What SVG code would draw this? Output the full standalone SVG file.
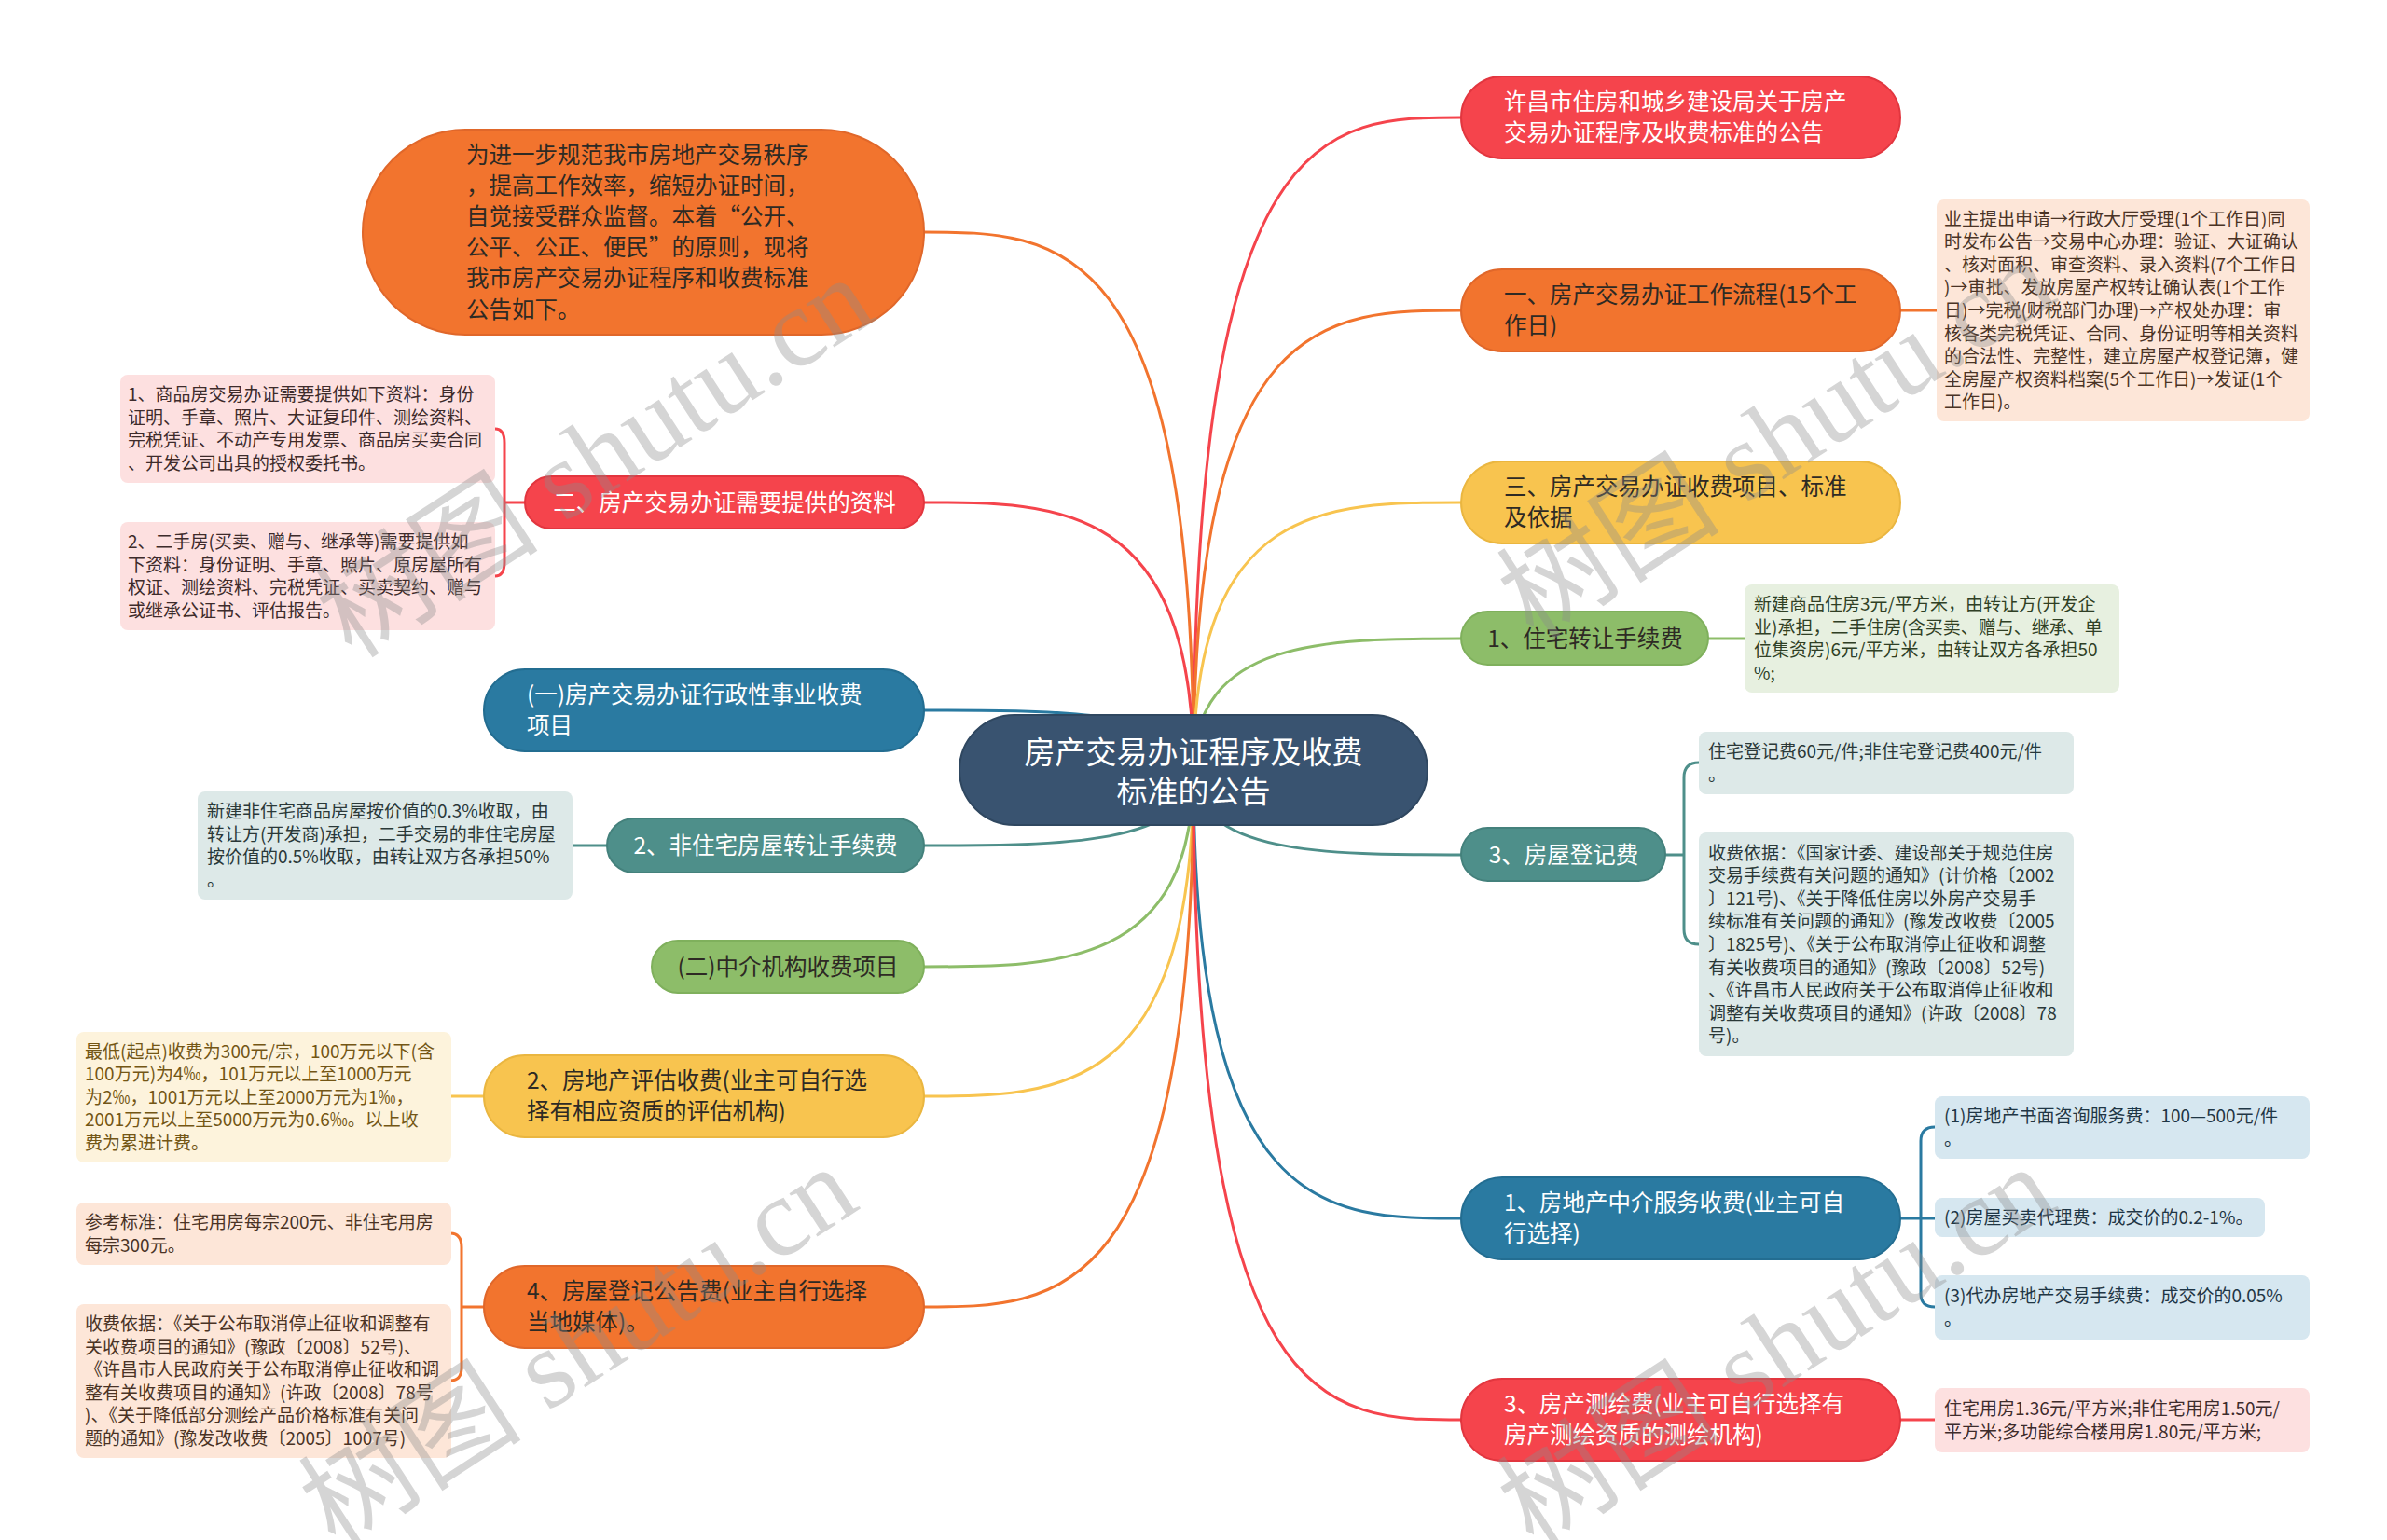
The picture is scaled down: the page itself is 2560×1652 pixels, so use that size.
<svg xmlns="http://www.w3.org/2000/svg" width="2560" height="1652" viewBox="0 0 2560 1652">
<style>
text{font-family:"Noto Sans CJK SC","Noto Sans",sans-serif}
.c{fill:none;stroke-width:3;stroke-linecap:round}
.nt{font-size:24.5px}
.st{font-size:19px}
.w{fill:#ffffff}
.d{fill:#2e2a24}
.red{fill:#f5444c;stroke:#e2363f;stroke-width:2}
.org{fill:#f2742e;stroke:#e0672a;stroke-width:2}
.yel{fill:#f8c44f;stroke:#eab640;stroke-width:2}
.grn{fill:#8dbd69;stroke:#7fb05c;stroke-width:2}
.blu{fill:#2a7aa1;stroke:#236d91;stroke-width:2}
.tea{fill:#4e8f8a;stroke:#44817c;stroke-width:2}
.npk{fill:#fde0e0}
.npc{fill:#fde6d8}
.nyl{fill:#fdf3dc}
.ngr{fill:#e7f0e0}
.ntl{fill:#dde9e8}
.nbl{fill:#d6e7f0}
.wm{font-family:"Liberation Serif","Noto Sans CJK SC",serif;font-size:120px;fill:#8c8c8c;opacity:0.36}
</style>
<rect width="2560" height="1652" fill="#ffffff"/>
<g id="connectors">
<path class="c" stroke="#f2742e" d="M1280,826 C1280,249 1135,249 991,249"/>
<path class="c" stroke="#f5444c" d="M1280,826 C1280,539 1135,539 991,539"/>
<path class="c" stroke="#2a7aa1" d="M1280,826 C1280,762 1135,762 991,762"/>
<path class="c" stroke="#4e8f8a" d="M1280,826 C1280,907 1135,907 991,907"/>
<path class="c" stroke="#8dbd69" d="M1280,826 C1280,1037 1135,1037 991,1037"/>
<path class="c" stroke="#f8c44f" d="M1280,826 C1280,1176 1135,1176 991,1176"/>
<path class="c" stroke="#f2742e" d="M1280,826 C1280,1402 1135,1402 991,1402"/>
<path class="c" stroke="#f5444c" d="M1280,826 C1280,126 1423,126 1567,126"/>
<path class="c" stroke="#f2742e" d="M1280,826 C1280,333 1423,333 1567,333"/>
<path class="c" stroke="#f8c44f" d="M1280,826 C1280,539 1423,539 1567,539"/>
<path class="c" stroke="#8dbd69" d="M1280,826 C1280,685 1423,685 1567,685"/>
<path class="c" stroke="#4e8f8a" d="M1280,826 C1280,917 1423,917 1567,917"/>
<path class="c" stroke="#2a7aa1" d="M1280,826 C1280,1307 1423,1307 1567,1307"/>
<path class="c" stroke="#f5444c" d="M1280,826 C1280,1523 1423,1523 1567,1523"/>
<path class="c" stroke="#f5444c" d="M563,539 L541,539 M531,460 Q541,460 541,475 L541,603 Q541,618 531,618"/>
<path class="c" stroke="#4e8f8a" d="M651,907 L614,907"/>
<path class="c" stroke="#f8c44f" d="M519,1176 L483,1176"/>
<path class="c" stroke="#f2742e" d="M519,1402 L495,1402 M483,1323 Q495,1323 495,1338 L495,1467 Q495,1481 483,1481"/>
<path class="c" stroke="#f2742e" d="M2038,333 L2077,333"/>
<path class="c" stroke="#8dbd69" d="M1832,685 L1871,685"/>
<path class="c" stroke="#4e8f8a" d="M1786,917 L1806,917 M1822,818 Q1806,818 1806,834 L1806,997 Q1806,1013 1822,1013"/>
<path class="c" stroke="#2a7aa1" d="M2038,1307 L2075,1307 M2075,1209 Q2060,1209 2060,1224 L2060,1388 Q2060,1402 2075,1402"/>
<path class="c" stroke="#f5444c" d="M2038,1523 L2075,1523"/>
</g>
<g id="root">
<rect x="1029" y="767" width="502" height="118" rx="59" fill="#395370" stroke="#2f4760" stroke-width="2"/>
<text x="1280" y="819" font-size="33" text-anchor="middle" class="w">房产交易办证程序及收费</text>
<text x="1280" y="861" font-size="33" text-anchor="middle" class="w">标准的公告</text>
</g>
<g id="n-intro">
<rect class="org" x="389" y="139" width="602" height="220" rx="110"/>
<text class="nt d" x="500" y="175">为进一步规范我市房地产交易秩序</text>
<text class="nt d" x="500" y="208">，提高工作效率，缩短办证时间，</text>
<text class="nt d" x="500" y="241">自觉接受群众监督。本着“公开、</text>
<text class="nt d" x="500" y="274">公平、公正、便民”的原则，现将</text>
<text class="nt d" x="500" y="307">我市房产交易办证程序和收费标准</text>
<text class="nt d" x="500" y="341">公告如下。</text>
</g>
<g id="n-materials">
<rect class="red" x="563" y="511" width="428" height="56" rx="28"/>
<text class="nt w" x="777" y="548" text-anchor="middle">二、房产交易办证需要提供的资料</text>
</g>
<g id="n-materials-1">
<rect class="npk" x="129" y="402" width="402" height="116" rx="8"/>
<text class="st" fill="#3d2b2b" x="137" y="430">1、商品房交易办证需要提供如下资料：身份</text>
<text class="st" fill="#3d2b2b" x="137" y="454.5">证明、手章、照片、大证复印件、测绘资料、</text>
<text class="st" fill="#3d2b2b" x="137" y="479">完税凭证、不动产专用发票、商品房买卖合同</text>
<text class="st" fill="#3d2b2b" x="137" y="503.5">、开发公司出具的授权委托书。</text>
</g>
<g id="n-materials-2">
<rect class="npk" x="129" y="560" width="402" height="116" rx="8"/>
<text class="st" fill="#3d2b2b" x="137" y="588">2、二手房(买卖、赠与、继承等)需要提供如</text>
<text class="st" fill="#3d2b2b" x="137" y="612.5">下资料：身份证明、手章、照片、原房屋所有</text>
<text class="st" fill="#3d2b2b" x="137" y="637">权证、测绘资料、完税凭证、买卖契约、赠与</text>
<text class="st" fill="#3d2b2b" x="137" y="661.5">或继承公证书、评估报告。</text>
</g>
<g id="n-admin">
<rect class="blu" x="519" y="718" width="472" height="88" rx="44"/>
<text class="nt w" x="565" y="754">(一)房产交易办证行政性事业收费</text>
<text class="nt w" x="565" y="787">项目</text>
</g>
<g id="n-nonres">
<rect class="tea" x="651" y="878" width="340" height="58" rx="29"/>
<text class="nt w" x="821" y="916" text-anchor="middle">2、非住宅房屋转让手续费</text>
</g>
<g id="n-nonres-note">
<rect class="ntl" x="212" y="849" width="402" height="116" rx="8"/>
<text class="st" fill="#2a3838" x="222" y="877">新建非住宅商品房屋按价值的0.3%收取，由</text>
<text class="st" fill="#2a3838" x="222" y="901.5">转让方(开发商)承担，二手交易的非住宅房屋</text>
<text class="st" fill="#2a3838" x="222" y="926">按价值的0.5%收取，由转让双方各承担50%</text>
<text class="st" fill="#2a3838" x="222" y="950.5">。</text>
</g>
<g id="n-agency">
<rect class="grn" x="699" y="1009" width="292" height="56" rx="28"/>
<text class="nt d" x="845" y="1046" text-anchor="middle">(二)中介机构收费项目</text>
</g>
<g id="n-appraisal">
<rect class="yel" x="519" y="1132" width="472" height="88" rx="44"/>
<text class="nt d" x="565" y="1168">2、房地产评估收费(业主可自行选</text>
<text class="nt d" x="565" y="1201">择有相应资质的评估机构)</text>
</g>
<g id="n-appraisal-note">
<rect class="nyl" x="82" y="1107" width="402" height="140" rx="8"/>
<text class="st" fill="#735615" x="91" y="1134.5">最低(起点)收费为300元/宗，100万元以下(含</text>
<text class="st" fill="#735615" x="91" y="1159">100万元)为4‰，101万元以上至1000万元</text>
<text class="st" fill="#735615" x="91" y="1183.5">为2‰，1001万元以上至2000万元为1‰，</text>
<text class="st" fill="#735615" x="91" y="1208">2001万元以上至5000万元为0.6‰。以上收</text>
<text class="st" fill="#735615" x="91" y="1233">费为累进计费。</text>
</g>
<g id="n-notice">
<rect class="org" x="519" y="1358" width="472" height="88" rx="44"/>
<text class="nt d" x="565" y="1394">4、房屋登记公告费(业主自行选择</text>
<text class="nt d" x="565" y="1427">当地媒体)。</text>
</g>
<g id="n-notice-1">
<rect class="npc" x="82" y="1290" width="402" height="67" rx="8"/>
<text class="st" fill="#4a3325" x="91" y="1318">参考标准：住宅用房每宗200元、非住宅用房</text>
<text class="st" fill="#4a3325" x="91" y="1342.5">每宗300元。</text>
</g>
<g id="n-notice-2">
<rect class="npc" x="82" y="1399" width="402" height="165" rx="8"/>
<text class="st" fill="#4a3325" x="91" y="1427">收费依据：《关于公布取消停止征收和调整有</text>
<text class="st" fill="#4a3325" x="91" y="1451.5">关收费项目的通知》(豫政〔2008〕52号)、</text>
<text class="st" fill="#4a3325" x="91" y="1476">《许昌市人民政府关于公布取消停止征收和调</text>
<text class="st" fill="#4a3325" x="91" y="1500.5">整有关收费项目的通知》(许政〔2008〕78号</text>
<text class="st" fill="#4a3325" x="91" y="1525">)、《关于降低部分测绘产品价格标准有关问</text>
<text class="st" fill="#4a3325" x="91" y="1549.5">题的通知》(豫发改收费〔2005〕1007号)</text>
</g>
<g id="n-title">
<rect class="red" x="1567" y="82" width="471" height="88" rx="44"/>
<text class="nt w" x="1613" y="118">许昌市住房和城乡建设局关于房产</text>
<text class="nt w" x="1613" y="151">交易办证程序及收费标准的公告</text>
</g>
<g id="n-process">
<rect class="org" x="1567" y="289" width="471" height="88" rx="44"/>
<text class="nt d" x="1613" y="325">一、房产交易办证工作流程(15个工</text>
<text class="nt d" x="1613" y="358">作日)</text>
</g>
<g id="n-process-note">
<rect class="npc" x="2077" y="214" width="400" height="238" rx="8"/>
<text class="st" fill="#4a3325" x="2085" y="241.5">业主提出申请→行政大厅受理(1个工作日)同</text>
<text class="st" fill="#4a3325" x="2085" y="266">时发布公告→交易中心办理：验证、大证确认</text>
<text class="st" fill="#4a3325" x="2085" y="290.5">、核对面积、审查资料、录入资料(7个工作日</text>
<text class="st" fill="#4a3325" x="2085" y="315">)→审批、发放房屋产权转让确认表(1个工作</text>
<text class="st" fill="#4a3325" x="2085" y="340">日)→完税(财税部门办理)→产权处办理：审</text>
<text class="st" fill="#4a3325" x="2085" y="364.5">核各类完税凭证、合同、身份证明等相关资料</text>
<text class="st" fill="#4a3325" x="2085" y="389">的合法性、完整性，建立房屋产权登记簿，健</text>
<text class="st" fill="#4a3325" x="2085" y="413.5">全房屋产权资料档案(5个工作日)→发证(1个</text>
<text class="st" fill="#4a3325" x="2085" y="438">工作日)。</text>
</g>
<g id="n-fees">
<rect class="yel" x="1567" y="495" width="471" height="88" rx="44"/>
<text class="nt d" x="1613" y="531">三、房产交易办证收费项目、标准</text>
<text class="nt d" x="1613" y="564">及依据</text>
</g>
<g id="n-res">
<rect class="grn" x="1567" y="656" width="265" height="57" rx="28.5"/>
<text class="nt d" x="1700" y="694" text-anchor="middle">1、住宅转让手续费</text>
</g>
<g id="n-res-note">
<rect class="ngr" x="1871" y="627" width="402" height="116" rx="8"/>
<text class="st" fill="#2f3f25" x="1881" y="655">新建商品住房3元/平方米，由转让方(开发企</text>
<text class="st" fill="#2f3f25" x="1881" y="679.5">业)承担，二手住房(含买卖、赠与、继承、单</text>
<text class="st" fill="#2f3f25" x="1881" y="704">位集资房)6元/平方米，由转让双方各承担50</text>
<text class="st" fill="#2f3f25" x="1881" y="728.5">%;</text>
</g>
<g id="n-reg">
<rect class="tea" x="1567" y="888" width="219" height="57" rx="28.5"/>
<text class="nt w" x="1677" y="926" text-anchor="middle">3、房屋登记费</text>
</g>
<g id="n-reg-1">
<rect class="ntl" x="1822" y="785" width="402" height="67" rx="8"/>
<text class="st" fill="#2a3838" x="1832" y="813">住宅登记费60元/件;非住宅登记费400元/件</text>
<text class="st" fill="#2a3838" x="1832" y="837.5">。</text>
</g>
<g id="n-reg-2">
<rect class="ntl" x="1822" y="893" width="402" height="240" rx="8"/>
<text class="st" fill="#2a3838" x="1832" y="921.5">收费依据：《国家计委、建设部关于规范住房</text>
<text class="st" fill="#2a3838" x="1832" y="946">交易手续费有关问题的通知》(计价格〔2002</text>
<text class="st" fill="#2a3838" x="1832" y="970.5">〕121号)、《关于降低住房以外房产交易手</text>
<text class="st" fill="#2a3838" x="1832" y="995">续标准有关问题的通知》(豫发改收费〔2005</text>
<text class="st" fill="#2a3838" x="1832" y="1020">〕1825号)、《关于公布取消停止征收和调整</text>
<text class="st" fill="#2a3838" x="1832" y="1044.5">有关收费项目的通知》(豫政〔2008〕52号)</text>
<text class="st" fill="#2a3838" x="1832" y="1069">、《许昌市人民政府关于公布取消停止征收和</text>
<text class="st" fill="#2a3838" x="1832" y="1093.5">调整有关收费项目的通知》(许政〔2008〕78</text>
<text class="st" fill="#2a3838" x="1832" y="1118">号)。</text>
</g>
<g id="n-service">
<rect class="blu" x="1567" y="1263" width="471" height="88" rx="44"/>
<text class="nt w" x="1613" y="1299">1、房地产中介服务收费(业主可自</text>
<text class="nt w" x="1613" y="1332">行选择)</text>
</g>
<g id="n-service-1">
<rect class="nbl" x="2075" y="1176" width="402" height="67" rx="8"/>
<text class="st" fill="#1f3645" x="2085" y="1204">(1)房地产书面咨询服务费：100—500元/件</text>
<text class="st" fill="#1f3645" x="2085" y="1228.5">。</text>
</g>
<g id="n-service-2">
<rect class="nbl" x="2075" y="1285" width="354" height="42" rx="8"/>
<text class="st" fill="#1f3645" x="2085" y="1313">(2)房屋买卖代理费：成交价的0.2-1%。</text>
</g>
<g id="n-service-3">
<rect class="nbl" x="2075" y="1368" width="402" height="69" rx="8"/>
<text class="st" fill="#1f3645" x="2085" y="1397">(3)代办房地产交易手续费：成交价的0.05%</text>
<text class="st" fill="#1f3645" x="2085" y="1421.5">。</text>
</g>
<g id="n-survey">
<rect class="red" x="1567" y="1479" width="471" height="88" rx="44"/>
<text class="nt w" x="1613" y="1515">3、房产测绘费(业主可自行选择有</text>
<text class="nt w" x="1613" y="1548">房产测绘资质的测绘机构)</text>
</g>
<g id="n-survey-note">
<rect class="npk" x="2075" y="1489" width="402" height="69" rx="8"/>
<text class="st" fill="#3d2b2b" x="2085" y="1518">住宅用房1.36元/平方米;非住宅用房1.50元/</text>
<text class="st" fill="#3d2b2b" x="2085" y="1542.5">平方米;多功能综合楼用房1.80元/平方米;</text>
</g>
<g id="watermarks">
<text class="wm" transform="translate(378,708) rotate(-33)">树图 shutu.cn</text>
<text class="wm" transform="translate(1645,688) rotate(-33)">树图 shutu.cn</text>
<text class="wm" transform="translate(360,1662) rotate(-33)">树图 shutu.cn</text>
<text class="wm" transform="translate(1645,1662) rotate(-33)">树图 shutu.cn</text>
</g>
</svg>
